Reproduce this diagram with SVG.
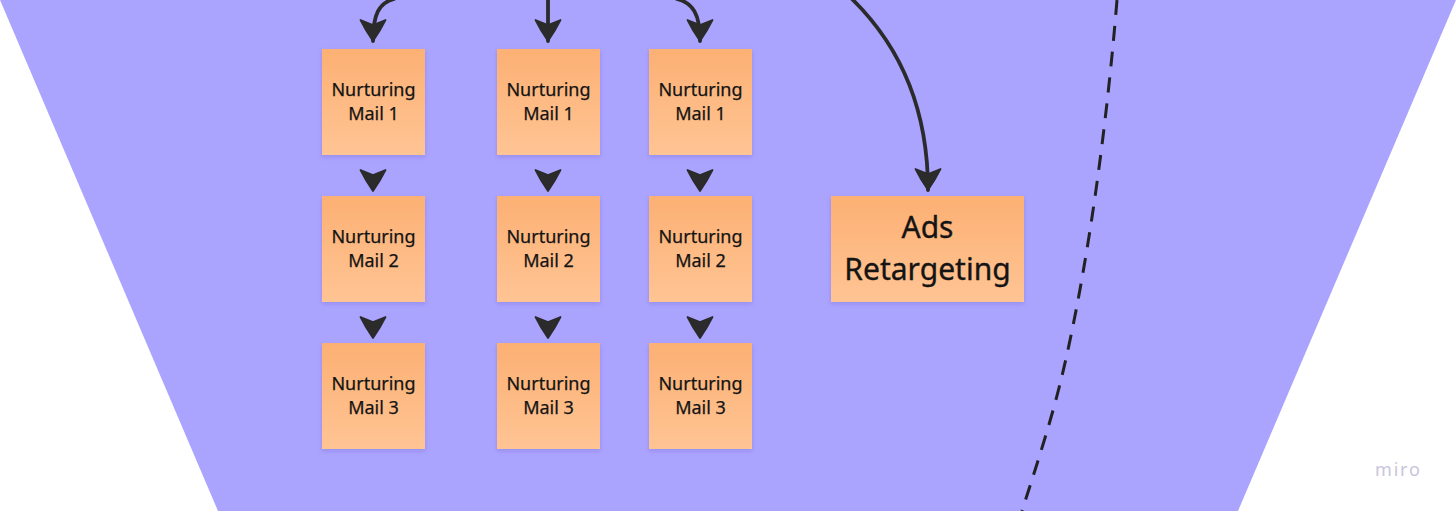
<svg xmlns="http://www.w3.org/2000/svg" width="1456" height="511" viewBox="0 0 1456 511">
<style>
.note{fill:url(#ng);filter:url(#sh)}
.t{font-family:"Noto Sans","DejaVu Sans",sans-serif;font-size:18px;fill:#141414;stroke:#141414;stroke-width:0.25;text-anchor:middle}
.tb{font-size:30px;stroke-width:0.35}
.c{fill:none;stroke:#2b2b2b;stroke-width:3.8;stroke-linecap:round}
.h{fill:none;stroke:none}
</style>
<defs>
<linearGradient id="ng" x1="0" y1="0" x2="0" y2="1">
<stop offset="0" stop-color="#FCB073"/>
<stop offset="1" stop-color="#FFC494"/>
</linearGradient>
<filter id="sh" x="-10%" y="-10%" width="120%" height="130%">
<feDropShadow dx="0" dy="2" stdDeviation="2" flood-color="#3a2f9a" flood-opacity="0.18"/>
</filter>
<marker id="ah" markerUnits="userSpaceOnUse" markerWidth="30" markerHeight="30" viewBox="-2 -2 28 30" refX="21" refY="12.5" orient="auto">
<path d="M0,0 Q11,5.5 21,12.5 Q11,19.5 0,25 L5,12.5 Z" fill="#2b2b2b" stroke="#2b2b2b" stroke-width="1.8" stroke-linejoin="round"/>
</marker>
</defs>
<rect width="1456" height="511" fill="#ffffff"/>
<polygon points="0,0 1456,0 1238,511 218,511" fill="#ABA4FF"/>
<path d="M1117,0 C1108,110 1090,260 1061,380 C1050,425 1035,470 1022,511" fill="none" stroke="#222" stroke-width="3" stroke-dasharray="15,11"/>
<g id="connectors">
<path class="c" d="M394,-1 C379,3 373,14 373,41" marker-end="url(#ah)"/>
<path class="c" d="M548,-2 L548,41" marker-end="url(#ah)"/>
<path class="c" d="M677,-1 C693,3 700,14 700,41" marker-end="url(#ah)"/>
<path class="c" d="M852,-1 C902,48 928,110 928,190" marker-end="url(#ah)"/>
<path class="h" d="M373,180 L373,191" marker-end="url(#ah)"/>
<path class="h" d="M548,180 L548,191" marker-end="url(#ah)"/>
<path class="h" d="M700,180 L700,191" marker-end="url(#ah)"/>
<path class="h" d="M373,327 L373,338" marker-end="url(#ah)"/>
<path class="h" d="M548,327 L548,338" marker-end="url(#ah)"/>
<path class="h" d="M700,327 L700,338" marker-end="url(#ah)"/>
</g>
<g id="n11"><rect class="note" x="322" y="49" width="103" height="106"/><text class="t" x="373.5" y="96">Nurturing</text><text class="t" x="373.5" y="120">Mail 1</text></g>
<g id="n21"><rect class="note" x="497" y="49" width="103" height="106"/><text class="t" x="548.5" y="96">Nurturing</text><text class="t" x="548.5" y="120">Mail 1</text></g>
<g id="n31"><rect class="note" x="649" y="49" width="103" height="106"/><text class="t" x="700.5" y="96">Nurturing</text><text class="t" x="700.5" y="120">Mail 1</text></g>
<g id="n12"><rect class="note" x="322" y="196" width="103" height="106"/><text class="t" x="373.5" y="243">Nurturing</text><text class="t" x="373.5" y="267">Mail 2</text></g>
<g id="n22"><rect class="note" x="497" y="196" width="103" height="106"/><text class="t" x="548.5" y="243">Nurturing</text><text class="t" x="548.5" y="267">Mail 2</text></g>
<g id="n32"><rect class="note" x="649" y="196" width="103" height="106"/><text class="t" x="700.5" y="243">Nurturing</text><text class="t" x="700.5" y="267">Mail 2</text></g>
<g id="n13"><rect class="note" x="322" y="343" width="103" height="106"/><text class="t" x="373.5" y="390">Nurturing</text><text class="t" x="373.5" y="414">Mail 3</text></g>
<g id="n23"><rect class="note" x="497" y="343" width="103" height="106"/><text class="t" x="548.5" y="390">Nurturing</text><text class="t" x="548.5" y="414">Mail 3</text></g>
<g id="n33"><rect class="note" x="649" y="343" width="103" height="106"/><text class="t" x="700.5" y="390">Nurturing</text><text class="t" x="700.5" y="414">Mail 3</text></g>
<g id="ads"><rect class="note" x="831" y="196" width="193" height="106"/><text class="t tb" x="927.5" y="238">Ads</text><text class="t tb" x="927.5" y="280">Retargeting</text></g>
<text x="1375" y="476" font-family="Noto Sans, sans-serif" font-size="18" fill="#C8C6DC" letter-spacing="1.8">miro</text>
</svg>
